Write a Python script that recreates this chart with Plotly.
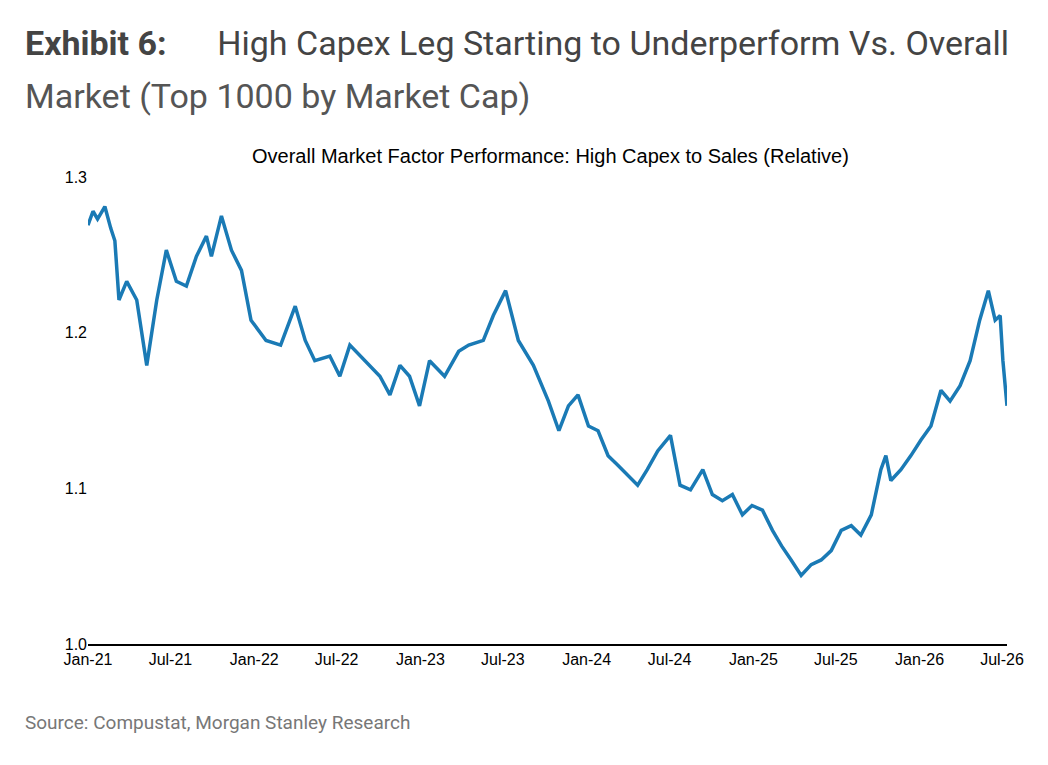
import plotly.graph_objects as go

dates = ["2021-01-01","2021-01-12","2021-01-22","2021-02-07","2021-02-20","2021-03-01","2021-03-10","2021-03-27","2021-04-18","2021-05-10",
"2021-06-01","2021-06-22","2021-07-14","2021-08-05","2021-08-27","2021-09-18","2021-09-29","2021-10-21","2021-11-12","2021-12-04",
"2021-12-25","2022-01-27","2022-02-28","2022-04-01","2022-04-23","2022-05-14","2022-06-16","2022-07-08","2022-07-30","2022-09-01",
"2022-10-04","2022-10-26","2022-11-17","2022-12-08","2022-12-30","2023-01-21","2023-02-23","2023-03-26","2023-04-17","2023-05-19",
"2023-06-10","2023-07-07","2023-08-04","2023-09-06","2023-10-09","2023-11-01","2023-11-22","2023-12-13","2024-01-05","2024-01-26",
"2024-02-17","2024-03-09","2024-04-01","2024-04-22","2024-05-13","2024-06-05","2024-07-03","2024-07-24","2024-08-16","2024-09-12",
"2024-10-03","2024-10-25","2024-11-16","2024-12-08","2024-12-29","2025-01-21","2025-02-12","2025-03-04","2025-03-25","2025-04-16",
"2025-05-08","2025-05-30","2025-06-21","2025-07-13","2025-08-04","2025-08-25","2025-09-17","2025-10-08","2025-10-19","2025-10-30",
"2025-11-21","2025-12-13","2026-01-04","2026-01-26","2026-02-17","2026-03-09","2026-03-31","2026-04-22","2026-05-13","2026-06-01",
"2026-06-16","2026-06-27","2026-07-03","2026-07-12"]
values = [1.269,1.278,1.273,1.281,1.267,1.259,1.221,1.233,1.221,1.179,
1.221,1.253,1.233,1.230,1.249,1.262,1.249,1.275,1.253,1.240,
1.208,1.195,1.192,1.217,1.195,1.182,1.185,1.172,1.192,1.182,
1.172,1.160,1.179,1.172,1.153,1.182,1.172,1.188,1.192,1.195,
1.211,1.227,1.195,1.179,1.156,1.137,1.153,1.160,1.140,1.137,
1.121,1.115,1.108,1.102,1.112,1.124,1.134,1.102,1.099,1.112,
1.096,1.092,1.096,1.083,1.089,1.086,1.073,1.063,1.054,1.044,
1.051,1.054,1.060,1.073,1.076,1.070,1.083,1.112,1.121,1.105,
1.112,1.121,1.131,1.140,1.163,1.156,1.166,1.182,1.208,1.227,
1.208,1.211,1.182,1.153]

tick_vals = ["2021-01-01","2021-07-01","2022-01-01","2022-07-01","2023-01-01","2023-07-01","2024-01-01",
             "2024-07-01","2025-01-01","2025-07-01","2026-01-01","2026-07-01"]
tick_text = ["Jan-21","Jul-21","Jan-22","Jul-22","Jan-23","Jul-23","Jan-24","Jul-24","Jan-25","Jul-25","Jan-26","Jul-26"]
y_ticks = [1.0, 1.1, 1.2, 1.3]

L, R, T, B = 80, 1007, 176, 644
def px(x): return (x - L) / (R - L)
def py(y): return (B - y) / (B - T)

fig = go.Figure(go.Scatter(x=dates, y=values, mode="lines",
                           line=dict(color="#1a7ab5", width=3.5)))
fig.update_layout(
    width=1048, height=765, paper_bgcolor="white", plot_bgcolor="white",
    margin=dict(l=80, r=49, t=169, b=129, pad=0), showlegend=False,
    font=dict(family="Liberation Sans, Arial", size=16, color="black"),
    xaxis=dict(range=["2021-01-01","2026-07-12"], tickvals=tick_vals, ticktext=tick_text,
               showgrid=False, showline=True, linecolor="black", linewidth=1.5,
               ticks="", tickfont=dict(size=16)),
    yaxis=dict(range=[1.0,1.3], tickvals=y_ticks, ticktext=["1.0","1.1","1.2","1.3"],
               showgrid=False, zeroline=False, ticks="", tickfont=dict(size=16)),
    annotations=[
        dict(x=px(14), y=py(42), xref="paper", yref="paper", xanchor="left", yanchor="middle",
             showarrow=False, align="left",
             text="<b>Exhibit 6:</b>      High Capex Leg Starting to Underperform Vs. Overall",
             font=dict(family="Roboto", size=34, color="#444444")),
        dict(x=px(14), y=py(95), xref="paper", yref="paper", xanchor="left", yanchor="middle",
             showarrow=False, text="Market (Top 1000 by Market Cap)",
             font=dict(family="Roboto", size=34, color="#555555")),
        dict(x=px(547), y=py(155), xref="paper", yref="paper", xanchor="center", yanchor="middle",
             showarrow=False, text="Overall Market Factor Performance: High Capex to Sales (Relative)",
             font=dict(family="Liberation Sans, Arial", size=20, color="black")),
        dict(x=px(14), y=py(723), xref="paper", yref="paper", xanchor="left", yanchor="middle",
             showarrow=False, text="Source: Compustat, Morgan Stanley Research",
             font=dict(family="Roboto", size=19, color="#777777")),
    ],
)
fig.write_html("out.html")
